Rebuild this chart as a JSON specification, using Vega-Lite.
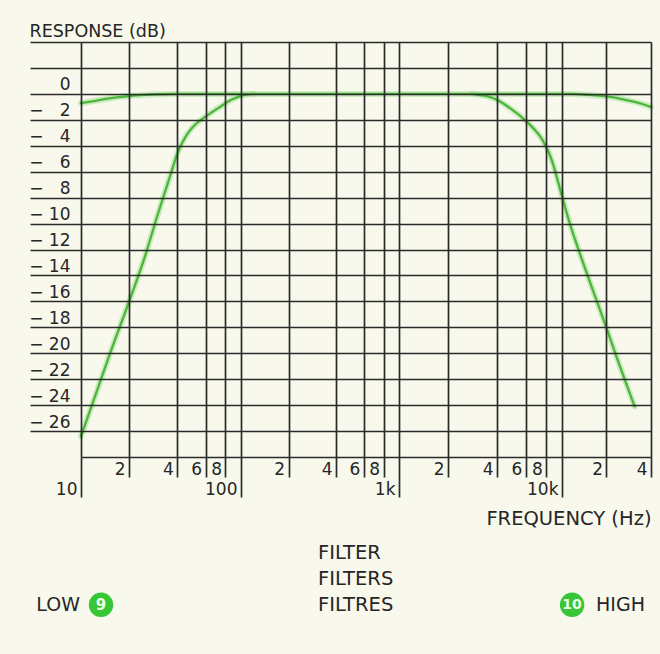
{
  "$schema": "https://vega.github.io/schema/vega-lite/v6.json",
  "width": 570,
  "height": 415,
  "autosize": {"type": "none"},
  "padding": {"left": 81, "top": 42, "right": 9, "bottom": 197},
  "background": "#f8f9ec",
  "config": {
    "view": {"stroke": null},
    "font": "DejaVu Sans",
    "text": {"font": "DejaVu Sans", "color": "#262626"},
    "axis": {"labelFont": "DejaVu Sans", "titleFont": "DejaVu Sans"}
  },
  "data": {
    "values": [
      {"curve": "flat", "freq": 10, "db": -0.72},
      {"curve": "flat", "freq": 12, "db": -0.55},
      {"curve": "flat", "freq": 15, "db": -0.35},
      {"curve": "flat", "freq": 20, "db": -0.17},
      {"curve": "flat", "freq": 25, "db": -0.08},
      {"curve": "flat", "freq": 30, "db": -0.03},
      {"curve": "flat", "freq": 40, "db": 0},
      {"curve": "flat", "freq": 1000, "db": 0},
      {"curve": "flat", "freq": 12000, "db": 0},
      {"curve": "flat", "freq": 15000, "db": -0.07},
      {"curve": "flat", "freq": 20000, "db": -0.2},
      {"curve": "flat", "freq": 25000, "db": -0.38},
      {"curve": "flat", "freq": 30000, "db": -0.58},
      {"curve": "flat", "freq": 35000, "db": -0.78},
      {"curve": "flat", "freq": 40000, "db": -1.0},
      {"curve": "low", "freq": 10, "db": -26.4},
      {"curve": "low", "freq": 12.5, "db": -23.0},
      {"curve": "low", "freq": 15, "db": -20.2},
      {"curve": "low", "freq": 20, "db": -16.0},
      {"curve": "low", "freq": 25, "db": -12.6},
      {"curve": "low", "freq": 30, "db": -9.4},
      {"curve": "low", "freq": 34, "db": -7.3},
      {"curve": "low", "freq": 37, "db": -5.9},
      {"curve": "low", "freq": 40, "db": -4.6},
      {"curve": "low", "freq": 43, "db": -3.75},
      {"curve": "low", "freq": 46, "db": -3.12},
      {"curve": "low", "freq": 50, "db": -2.55},
      {"curve": "low", "freq": 60, "db": -1.75},
      {"curve": "low", "freq": 72, "db": -1.1},
      {"curve": "low", "freq": 87, "db": -0.46},
      {"curve": "low", "freq": 100, "db": -0.15},
      {"curve": "low", "freq": 120, "db": 0},
      {"curve": "high", "freq": 2800, "db": 0},
      {"curve": "high", "freq": 3000, "db": -0.05},
      {"curve": "high", "freq": 3500, "db": -0.2},
      {"curve": "high", "freq": 4000, "db": -0.46},
      {"curve": "high", "freq": 4800, "db": -1.1},
      {"curve": "high", "freq": 6000, "db": -2.08},
      {"curve": "high", "freq": 7000, "db": -2.95},
      {"curve": "high", "freq": 7500, "db": -3.45},
      {"curve": "high", "freq": 8000, "db": -4.1},
      {"curve": "high", "freq": 8500, "db": -4.85},
      {"curve": "high", "freq": 9000, "db": -5.8},
      {"curve": "high", "freq": 9500, "db": -6.85},
      {"curve": "high", "freq": 10000, "db": -7.9},
      {"curve": "high", "freq": 11300, "db": -10.0},
      {"curve": "high", "freq": 13200, "db": -12.3},
      {"curve": "high", "freq": 20000, "db": -18.05},
      {"curve": "high", "freq": 23100, "db": -20.1},
      {"curve": "high", "freq": 31000, "db": -24.1}
    ]
  },
  "layer": [
    {
      "mark": {"type": "line", "stroke": "#aee3a0", "strokeWidth": 6, "opacity": 0.6, "interpolate": "monotone", "strokeCap": "round"},
      "encoding": {
        "x": {"field": "freq", "type": "quantitative", "scale": {"type": "log", "domain": [10, 100, 1000, 10000, 40000], "range": [0, 160, 318, 481, 570], "nice": false}},
        "y": {"field": "db", "type": "quantitative", "scale": {"domain": [-28, 4], "nice": false, "zero": false}},
        "detail": {"field": "curve"}
      }
    },
    {
      "mark": {"type": "line", "stroke": "#4db43c", "strokeWidth": 2.3, "interpolate": "monotone", "strokeCap": "round"},
      "encoding": {
        "x": {
          "field": "freq",
          "type": "quantitative",
          "scale": {"type": "log", "domain": [10, 100, 1000, 10000, 40000], "range": [0, 160, 318, 481, 570], "nice": false},
          "axis": {
            "values": [10, 20, 40, 60, 80, 100, 200, 400, 600, 800, 1000, 2000, 4000, 6000, 8000, 10000, 20000, 40000],
            "tickCount": 40,
            "title": "FREQUENCY (Hz)",
            "titleX": 570,
            "titleY": 67,
            "titleAlign": "right",
            "titleAnchor": "end",
            "titleBaseline": "alphabetic",
            "titleFontSize": 19.5,
            "titleFontWeight": "normal",
            "titleColor": "#262626",
            "grid": true,
            "gridColor": "#2b2b2b",
            "gridWidth": 1.7,
            "gridOpacity": 1,
            "domain": false,
            "ticks": true,
            "tickColor": "#2b2b2b",
            "tickWidth": 1.7,
            "tickSize": {"condition": {"test": "datum.value == 10 || datum.value == 100 || datum.value == 1000 || datum.value == 10000", "value": 40}, "value": 20},
            "labelExpr": "datum.value == 10 ? '10' : datum.value == 100 ? '100' : datum.value == 1000 ? '1k' : datum.value == 10000 ? '10k' : substring(toString(datum.value), 0, 1)",
            "labelAlign": "right",
            "labelBaseline": "alphabetic",
            "labelPadding": -3,
            "labelOffset": -4,
            "labelFontSize": 17,
            "labelColor": "#262626",
            "labelOverlap": false,
            "labelFlush": false,
            "labelBound": false,
            "zindex": 1
          }
        },
        "y": {
          "field": "db",
          "type": "quantitative",
          "scale": {"domain": [-28, 4], "nice": false, "zero": false},
          "axis": {
            "values": [4, 2, 0, -2, -4, -6, -8, -10, -12, -14, -16, -18, -20, -22, -24, -26, -28],
            "tickCount": 40,
            "title": "RESPONSE (dB)",
            "titleAngle": 0,
            "titleAlign": "left",
            "titleAnchor": "start",
            "titleBaseline": "alphabetic",
            "titleX": -52,
            "titleY": -6,
            "titleFontSize": 17.5,
            "titleFontWeight": "normal",
            "titleColor": "#262626",
            "grid": true,
            "gridColor": "#2b2b2b",
            "gridWidth": 1.7,
            "gridOpacity": 1,
            "domain": false,
            "ticks": true,
            "tickColor": "#2b2b2b",
            "tickWidth": 1.7,
            "tickSize": 51,
            "tickOpacity": {"condition": {"test": "datum.value < -27", "value": 0}, "value": 1},
            "labelExpr": "datum.value > 0 || datum.value < -27 ? '' : datum.value == 0 ? '0' : '\u2212\u00a0' + (datum.value > -10 ? '\u2007' : '') + toString(-datum.value)",
            "labelAlign": "right",
            "labelBaseline": "alphabetic",
            "labelPadding": -40,
            "labelOffset": -4,
            "labelFontSize": 17,
            "labelColor": "#262626",
            "labelOverlap": false,
            "labelBound": false,
            "zindex": 1
          }
        },
        "detail": {"field": "curve"}
      }
    },
    {
      "data": {"values": [{"label": "LOW"}]},
      "mark": {"type": "text", "align": "right", "baseline": "middle", "fontSize": 19},
      "encoding": {
        "x": {"datum": 9.86, "type": "quantitative"},
        "y": {"datum": -39.4, "type": "quantitative"},
        "text": {"field": "label"}
      }
    },
    {
      "data": {"values": [{"label": "9"}]},
      "layer": [
        {"mark": {"type": "point", "shape": "circle", "filled": true, "fill": "#36c636", "opacity": 1, "size": 600, "strokeWidth": 0}},
        {"mark": {"type": "text", "align": "center", "baseline": "middle", "fontSize": 15, "fontWeight": "bold", "color": "#eaffe4"}, "encoding": {"text": {"field": "label"}}}
      ],
      "encoding": {
        "x": {"datum": 13.34, "type": "quantitative"},
        "y": {"datum": -39.4, "type": "quantitative"}
      }
    },
    {
      "data": {"values": [{"label": "10"}]},
      "layer": [
        {"mark": {"type": "point", "shape": "circle", "filled": true, "fill": "#36c636", "opacity": 1, "size": 600, "strokeWidth": 0}},
        {"mark": {"type": "text", "align": "center", "baseline": "middle", "fontSize": 14, "fontWeight": "bold", "color": "#eaffe4"}, "encoding": {"text": {"field": "label"}}}
      ],
      "encoding": {
        "x": {"datum": 11700, "type": "quantitative"},
        "y": {"datum": -39.4, "type": "quantitative"}
      }
    },
    {
      "data": {"values": [{"label": "HIGH"}]},
      "mark": {"type": "text", "align": "left", "baseline": "middle", "fontSize": 19},
      "encoding": {
        "x": {"datum": 17000, "type": "quantitative"},
        "y": {"datum": -39.4, "type": "quantitative"},
        "text": {"field": "label"}
      }
    },
    {
      "data": {"values": [{"label": "FILTER"}, {"label": "FILTERS"}, {"label": "FILTRES"}]},
      "transform": [{"aggregate": [{"op": "values", "field": "label", "as": "lines"}]}, {"calculate": "pluck(datum.lines, 'label')", "as": "text"}],
      "mark": {"type": "text", "align": "left", "baseline": "middle", "fontSize": 19.5, "lineHeight": 26},
      "encoding": {
        "x": {"datum": 307, "type": "quantitative"},
        "y": {"datum": -35.4, "type": "quantitative"},
        "text": {"field": "text"}
      }
    }
  ]
}
